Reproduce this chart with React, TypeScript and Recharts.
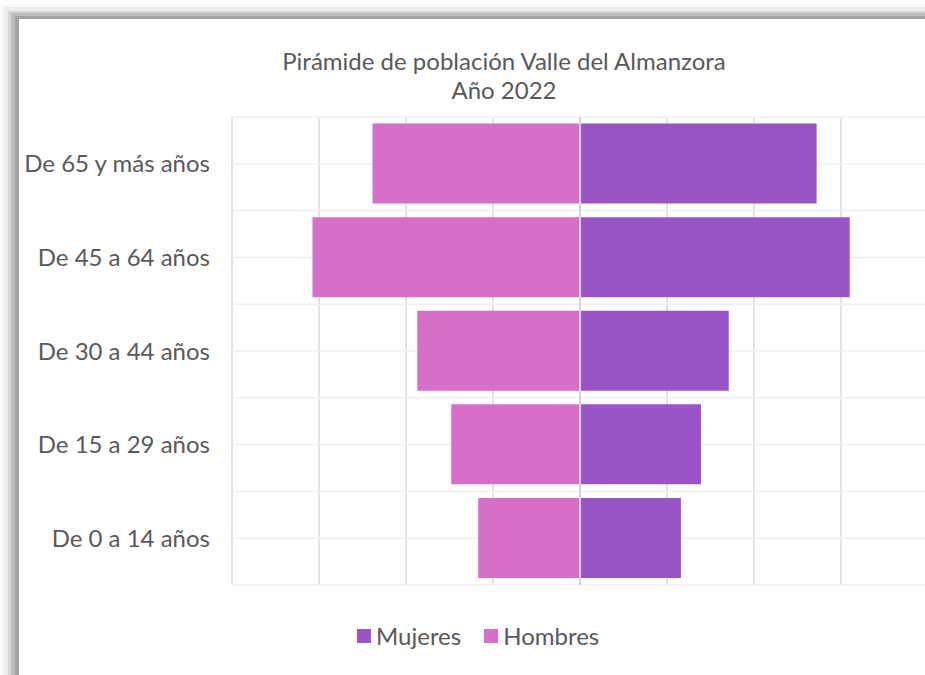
import {
  BarChart,
  Bar,
  XAxis,
  YAxis,
  CartesianGrid,
  ReferenceLine,
  Legend,
} from "recharts";

const CATEGORIES = [
  "De 65 y más años",
  "De 45 a 64 años",
  "De 30 a 44 años",
  "De 15 a 29 años",
  "De 0 a 14 años",
];
const MUJERES = [5440, 6200, 3420, 2780, 2320];
const HOMBRES = [4770, 6150, 3740, 2960, 2340];
const X_TICKS = [-8000, -6000, -4000, -2000, 0, 2000, 4000, 6000, 8000];

const TITLE = ["Pirámide de población Valle del Almanzora", "Año 2022"];

const SERIES = [
  { key: "mujeres", name: "Mujeres", color: "#9955C8" },
  { key: "hombres", name: "Hombres", color: "#D76FC9" },
];

// hombres go to the left
const data = CATEGORIES.map((cat, i) => ({
  cat,
  mujeres: MUJERES[i],
  hombres: -HOMBRES[i],
}));

const FONT = "Lato, 'Open Sans', sans-serif";
const TEXT = "#595959";

// grey drop-shadow frame like the excel screenshot
const FRAME = [
  { left: 1, top: 4, bg: "#f8f8f8" },
  { left: 4, top: 7, bg: "#ececec" },
  { left: 8, top: 11, bg: "#d6d6d6" },
  { left: 11, top: 13, bg: "#bdbdbd" },
  { left: 15, top: 16, bg: "#a3a3a3" },
  { left: 19, top: 19, bg: "#ffffff" },
];

function LegendContent() {
  return (
    <div style={{ display: "flex", alignItems: "center", gap: 23 }}>
      {SERIES.map((s) => (
        <div key={s.key} style={{ display: "flex", alignItems: "center", gap: 5 }}>
          <span
            style={{
              width: 14,
              height: 14,
              background: s.color,
              display: "inline-block",
            }}
          />
          <span style={{ fontFamily: FONT, fontSize: 24, color: TEXT }}>{s.name}</span>
        </div>
      ))}
    </div>
  );
}

export default function App() {
  return (
    <div
      style={{
        position: "absolute",
        left: 0,
        top: 0,
        width: 925,
        height: 675,
        overflow: "hidden",
        background: "#fff",
      }}
    >
      {FRAME.map((f, i) => (
        <div
          key={i}
          style={{
            position: "absolute",
            left: f.left,
            top: f.top,
            right: -20,
            bottom: -20,
            background: f.bg,
          }}
        />
      ))}

      {/* Title */}
      <div
        style={{
          position: "absolute",
          left: 0,
          top: 46,
          width: 1008,
          textAlign: "center",
          fontFamily: FONT,
          fontSize: 24,
          lineHeight: "29px",
          color: TEXT,
        }}
      >
        {TITLE.map((t) => (
          <div key={t}>{t}</div>
        ))}
      </div>

      <div style={{ position: "absolute", left: 0, top: 0 }}>
        <BarChart
          width={960}
          height={675}
          data={data}
          layout="vertical"
          stackOffset="sign"
          barCategoryGap="7%"
          margin={{ top: 117, right: 32, bottom: 90, left: 0 }}
        >
          <CartesianGrid
            horizontal={false}
            stroke="#d9d9d9"
            strokeWidth={1.5}
          />
          <CartesianGrid
            vertical={false}
            stroke="#f0f0f0"
            strokeWidth={1.5}
            horizontalCoordinatesGenerator={({ offset }: any) =>
              Array.from({ length: CATEGORIES.length * 2 + 1 }, (_, i) =>
                offset.top + (i * offset.height) / (CATEGORIES.length * 2)
              )
            }
          />
          <XAxis
            type="number"
            domain={[-8000, 8000]}
            ticks={X_TICKS}
            hide
          />
          <YAxis
            type="category"
            dataKey="cat"
            width={232}
            axisLine={false}
            tickLine={false}
            tickSize={0}
            tickMargin={22}
            tick={{ fill: TEXT, fontSize: 24, fontFamily: FONT }}
          />
          {SERIES.map((s) => (
            <Bar
              key={s.key}
              dataKey={s.key}
              name={s.name}
              stackId="p"
              fill={s.color}
              isAnimationActive={false}
            />
          ))}
          <ReferenceLine x={0} stroke="#d4d4d4" strokeWidth={2} />
          <Legend
            layout="horizontal"
            verticalAlign="middle"
            align="center"
            wrapperStyle={{ left: 357, top: 621, width: 320 }}
            content={() => <LegendContent />}
          />
        </BarChart>
      </div>
    </div>
  );
}
